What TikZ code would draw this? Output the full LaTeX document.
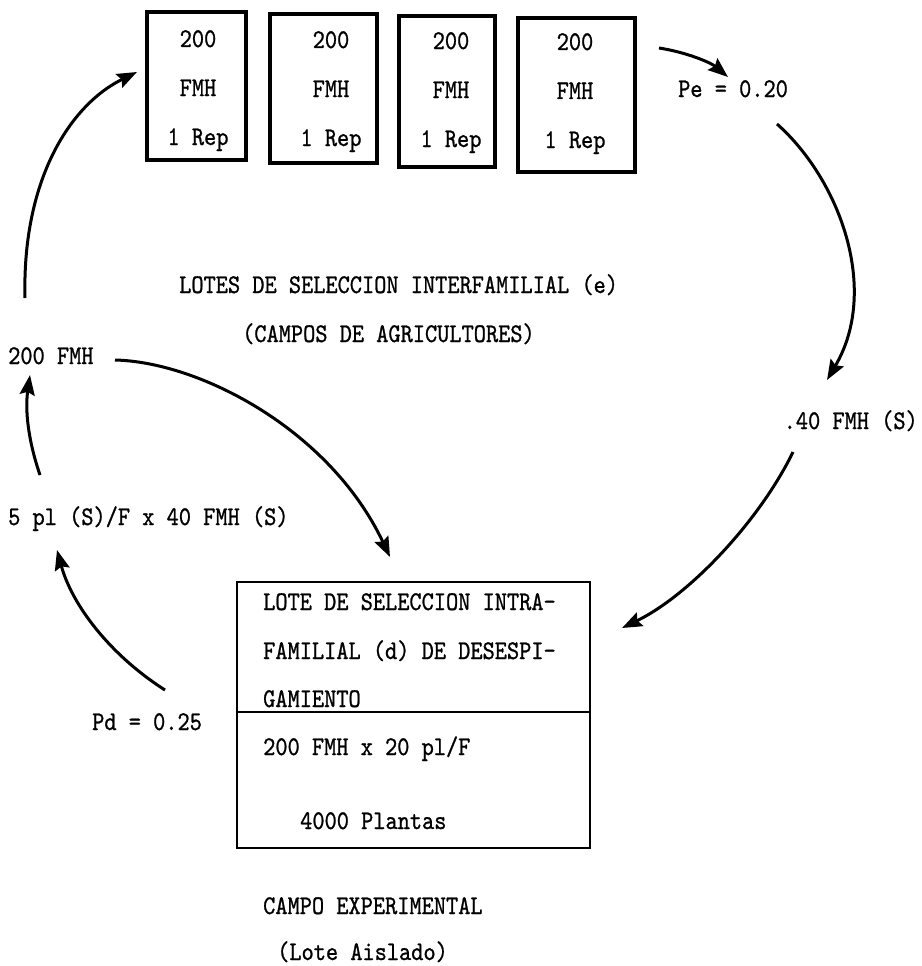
\documentclass[tikz,border=0pt]{standalone}
\usepackage{fontspec}
\usetikzlibrary{arrows.meta}
\newfontfamily\tw{lmmono10-regular.otf}[FakeStretch=0.86, FakeBold=0.9]
\newcommand\twfont{\tw\fontsize{27}{27}\selectfont}
\tikzset{
  txt/.style={font=\twfont, inner sep=0pt, anchor=base west},
  ctxt/.style={txt, anchor=base},
  plot/.style={draw, line width=3.5pt, inner sep=0pt},
  lotbox/.style={draw, line width=2.6pt, inner sep=0pt},
  arr/.style={line width=3pt, -{Stealth[length=20pt,width=15pt,inset=3pt]}}
}
\begin{document}
\begin{tikzpicture}[x=1pt,y=-1pt]
\useasboundingbox (0,0) rectangle (921,966);
% top plots
\node[plot, minimum width=99pt, minimum height=148pt] (b1) at (196.5,86) {};
\node[plot, minimum width=107pt, minimum height=149pt] (b2) at (323.5,88.5) {};
\node[plot, minimum width=96pt, minimum height=151pt] (b3) at (447,91.5) {};
\node[plot, minimum width=117pt, minimum height=154pt] (b4) at (576.5,95) {};
\foreach \n/\x/\y in {1/198/39, 2/331/40, 3/451/41, 4/575/42}{
  \node[ctxt] (t\n a) at (\x,\y+8) {200};
  \node[ctxt] (t\n b) at (\x,\y+57) {FMH};
  \node[ctxt] (t\n c) at (\x,\y+106) {1 Rep};
}
% labels
\node[txt] (pe) at (678,97) {Pe = 0.20};
\node[txt] (lotes) at (179,293) {LOTES DE SELECCION INTERFAMILIAL (e)};
\node[txt] (campos) at (242,342) {(CAMPOS DE AGRICULTORES)};
\node[txt, anchor=base east] (f40) at (918,429) {.40 FMH (S)};
\node[txt] (f200) at (8,364) {200 FMH};
\node[txt] (pl5) at (8,525) {5 pl (S)/F x 40 FMH (S)};
\node[txt] (pd) at (92,730) {Pd = 0.25};
% lower box
\node[lotbox, minimum width=353pt, minimum height=266pt] (lot) at (413.5,715) {};
\coordinate (div) at (0,712);
\draw[line width=2.6pt] (lot.west |- div) -- (lot.east |- div);
\node[txt] (l1) at (263,610) {LOTE DE SELECCION INTRA-};
\node[txt] (l2) at (263,659) {FAMILIAL (d) DE DESESPI-};
\node[txt] (l3) at (263,707) {GAMIENTO};
\node[txt] (l4) at (263,755) {200 FMH x 20 pl/F};
\node[txt] (l5) at (300,829) {4000 Plantas};
\node[txt] (ce) at (263,914) {CAMPO EXPERIMENTAL};
\node[txt] (la) at (277,960) {(Lote Aislado)};
% arrow end points
\coordinate (a1s) at (25,298);   \coordinate (a1e) at (137,72);
\coordinate (a2s) at (659,48);   \coordinate (a2e) at (728,77);
\coordinate (a3s) at (777,124);  \coordinate (a3e) at (827,380);
\coordinate (a4s) at (793,452);  \coordinate (a4e) at (622,628);
\coordinate (a5s) at (115,360);  \coordinate (a5e) at (390,557);
\coordinate (a6s) at (40,475);   \coordinate (a6e) at (30,375);
\coordinate (a7s) at (165,690);  \coordinate (a7e) at (57,550);
\draw[arr] (a1s) .. controls (22,180) and (70,105) .. (a1e);
\draw[arr] (a2s) .. controls (685,52) and (710,62) .. (a2e);
\draw[arr] (a3s) .. controls (840,180) and (880,290) .. (a3e);
\draw[arr] (a4s) .. controls (760,520) and (690,595) .. (a4e);
\draw[arr] (a5s) .. controls (200,362) and (330,430) .. (a5e);
\draw[arr] (a6s) .. controls (28,440) and (25,410) .. (a6e);
\draw[arr] (a7s) .. controls (110,655) and (72,605) .. (a7e);
\end{tikzpicture}
\end{document}
